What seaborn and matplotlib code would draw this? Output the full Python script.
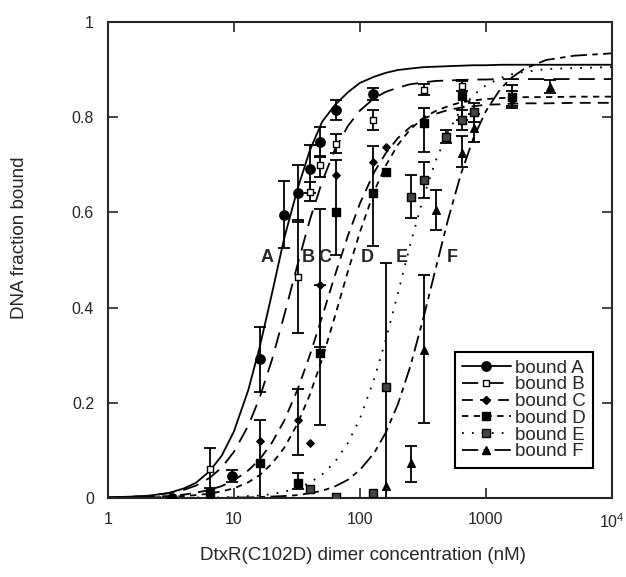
import matplotlib
matplotlib.use('Agg')
import matplotlib.pyplot as plt
import seaborn as sns
from matplotlib.lines import Line2D
from matplotlib.ticker import NullLocator

# fitted binding curves at these concentrations (nM)
curve_conc = [1, 2, 3, 4, 5, 6.4, 8, 10, 13, 16, 20, 25, 32, 40, 50, 63, 80, 100,
              130, 160, 200, 250, 320, 400, 500, 630, 800, 1000, 1300, 1600, 2000,
              3000, 5000, 10000]
fit_A = [0.001, 0.004, 0.010, 0.020, 0.032, 0.056, 0.089, 0.140, 0.227, 0.317, 0.429,
         0.545, 0.650, 0.730, 0.790, 0.825, 0.852, 0.872, 0.885, 0.893, 0.899, 0.902,
         0.905, 0.906, 0.907, 0.908, 0.909, 0.909, 0.910, 0.910, 0.910, 0.910, 0.910, 0.910]
fit_B = [0.001, 0.004, 0.010, 0.017, 0.026, 0.042, 0.064, 0.097, 0.152, 0.211, 0.290,
         0.383, 0.491, 0.584, 0.664, 0.731, 0.781, 0.814, 0.840, 0.853, 0.862, 0.869,
         0.873, 0.876, 0.877, 0.878, 0.879, 0.879, 0.880, 0.880, 0.880, 0.880, 0.880, 0.880]
fit_C = [0.001, 0.002, 0.004, 0.007, 0.011, 0.017, 0.025, 0.037, 0.058, 0.081, 0.116,
         0.162, 0.228, 0.300, 0.380, 0.466, 0.550, 0.619, 0.685, 0.724, 0.756, 0.779,
         0.797, 0.807, 0.815, 0.820, 0.823, 0.826, 0.827, 0.828, 0.829, 0.829, 0.830, 0.830]
fit_D = [0.000, 0.001, 0.002, 0.004, 0.006, 0.009, 0.014, 0.020, 0.033, 0.048, 0.072,
         0.105, 0.156, 0.217, 0.291, 0.380, 0.475, 0.559, 0.645, 0.698, 0.742, 0.774,
         0.799, 0.813, 0.823, 0.831, 0.835, 0.838, 0.840, 0.841, 0.842, 0.842, 0.843, 0.843]
fit_E = [0.000, 0.000, 0.000, 0.000, 0.001, 0.001, 0.001, 0.002, 0.004, 0.005, 0.008,
         0.013, 0.021, 0.032, 0.049, 0.075, 0.115, 0.167, 0.251, 0.332, 0.430, 0.531,
         0.633, 0.709, 0.769, 0.815, 0.847, 0.867, 0.882, 0.890, 0.895, 0.901, 0.903, 0.905]
fit_F = [0.000, 0.000, 0.000, 0.000, 0.000, 0.000, 0.000, 0.001, 0.001, 0.002, 0.003,
         0.004, 0.006, 0.010, 0.015, 0.024, 0.038, 0.059, 0.095, 0.137, 0.197, 0.275,
         0.380, 0.483, 0.585, 0.679, 0.758, 0.813, 0.859, 0.883, 0.901, 0.920, 0.929, 0.934]

# measured points with error bars (lower, upper)
conc_A = [3.2, 9.6, 16, 25, 32, 40, 48, 64, 128]
bound_A = [0.0, 0.046, 0.292, 0.595, 0.64, 0.69, 0.748, 0.815, 0.849]
lo_A = [0, 0.012, 0.07, 0.07, 0.06, 0.05, 0.03, 0.02, 0.013]
hi_A = [0, 0.012, 0.068, 0.07, 0.06, 0.052, 0.032, 0.02, 0.013]

conc_B = [6.4, 32, 40, 48, 64, 128, 320, 640]
bound_B = [0.061, 0.464, 0.643, 0.70, 0.744, 0.794, 0.857, 0.865]
lo_B = [0.04, 0.117, 0.02, 0.025, 0.02, 0.021, 0.01, 0.01]
hi_B = [0.044, 0.12, 0.02, 0.017, 0.02, 0.021, 0.013, 0.013]

conc_C = [6.4, 16, 32, 40, 48, 64, 128, 160, 1600]
bound_C = [0.012, 0.12, 0.164, 0.115, 0.447, 0.678, 0.705, 0.737, 0.835]
lo_C = [0, 0, 0.074, 0, 0.13, 0, 0, 0, 0.015]
hi_C = [0, 0, 0.064, 0, 0.16, 0, 0, 0, 0.02]

conc_D = [6.4, 16, 32, 48, 64, 128, 160, 320, 640, 1600]
bound_D = [0.01, 0.074, 0.032, 0.305, 0.60, 0.64, 0.685, 0.787, 0.845, 0.843]
lo_D = [0, 0.074, 0.014, 0.152, 0.09, 0.11, 0, 0.06, 0.05, 0.02]
hi_D = [0, 0.09, 0.02, 0.142, 0.11, 0.10, 0, 0.033, 0.03, 0.025]

conc_E = [40, 64, 128, 160, 256, 320, 480, 640, 800]
bound_E = [0.018, 0.003, 0.01, 0.233, 0.632, 0.668, 0.758, 0.794, 0.81]
lo_E = [0, 0, 0, 0.233, 0.044, 0.038, 0.013, 0.02, 0.02]
hi_E = [0, 0, 0, 0.261, 0.046, 0.038, 0.015, 0.02, 0.02]

conc_F = [6.4, 160, 256, 320, 400, 640, 800, 3200]
bound_F = [0.005, 0.025, 0.073, 0.311, 0.605, 0.725, 0.777, 0.863]
lo_F = [0, 0, 0.039, 0.154, 0.042, 0.03, 0.03, 0.013]
hi_F = [0, 0, 0.037, 0.157, 0.042, 0.035, 0.03, 0.015]

curve_letters = ['A', 'B', 'C', 'D', 'E', 'F']
letter_conc = [18.3, 38.7, 52.7, 114, 215, 537]

series = [
    ('bound A', fit_A, conc_A, bound_A, lo_A, hi_A, '-', 'o', 'k', 45),
    ('bound B', fit_B, conc_B, bound_B, lo_B, hi_B, (0, (9, 5)), 's', 'white', 22),
    ('bound C', fit_C, conc_C, bound_C, lo_C, hi_C, (0, (6, 4)), 'D', 'k', 14),
    ('bound D', fit_D, conc_D, bound_D, lo_D, hi_D, (0, (3.5, 3)), 's', 'k', 30),
    ('bound E', fit_E, conc_E, bound_E, lo_E, hi_E, (0, (1, 4.5)), 's', '#444444', 30),
    ('bound F', fit_F, conc_F, bound_F, lo_F, hi_F, (0, (9, 3, 3, 3)), '^', 'k', 30),
]

sns.set_style('ticks')
plt.rcParams['font.family'] = ['Liberation Sans', 'DejaVu Sans']
plt.rcParams['mathtext.default'] = 'regular'

fig, ax = plt.subplots(figsize=(6.26, 5.77), dpi=100)
fig.subplots_adjust(left=0.1725, right=0.9776, top=0.962, bottom=0.137)

handles = []
for name, fit, conc, bound, lo, hi, ls, mk, fc, size in series:
    sns.lineplot(x=curve_conc, y=fit, ax=ax, color='k', linestyle=ls, linewidth=1.3)
    keep = [i for i in range(len(conc)) if lo[i] + hi[i] > 0]
    ax.errorbar([conc[i] for i in keep], [bound[i] for i in keep],
                yerr=[[lo[i] for i in keep], [hi[i] for i in keep]],
                fmt='none', ecolor='k', elinewidth=1.3, capsize=4, capthick=1.3, zorder=2)
    sns.scatterplot(x=conc, y=bound, ax=ax, marker=mk, s=size, color=fc,
                    edgecolor='k', linewidth=1, zorder=3)
    handles.append(Line2D([], [], color='k', linestyle=ls, linewidth=1.3, marker=mk,
                          markersize=size ** 0.5, markerfacecolor=fc, markeredgecolor='k'))

for letter, xc in zip(curve_letters, letter_conc):
    ax.text(xc, 0.506, letter, ha='center', va='center', fontsize=13, fontweight='bold')

ax.set_xscale('log')
ax.set_xlim(1, 1e4)
ax.set_ylim(0, 1)
ax.set_xticks([1, 10, 100, 1000, 10000])
ax.set_xticklabels(['1', '10', '100', '1000', r'$10^4$'])
ax.xaxis.set_minor_locator(NullLocator())
ax.set_yticks([0, 0.2, 0.4, 0.6, 0.8, 1])
ax.set_yticklabels(['0', '0.2', '0.4', '0.6', '0.8', '1'])
ax.tick_params(direction='in', top=True, right=True, length=7, width=1.2,
               labelsize=11.5, pad=10)
for sp in ax.spines.values():
    sp.set_linewidth(1.5)

ax.set_xlabel('DtxR(C102D) dimer concentration (nM)', fontsize=13.5)
ax.set_ylabel('DNA fraction bound', fontsize=13.5)
ax.xaxis.set_label_coords(0.505, -0.103)
ax.yaxis.set_label_coords(-0.159, 0.546)

leg = ax.legend(handles, [s[0] for s in series], loc='lower right',
                bbox_to_anchor=(0.962, 0.063), borderaxespad=0, fontsize=13.5,
                handlelength=2.6, handletextpad=0.2, labelspacing=-0.02,
                fancybox=False, framealpha=1, borderpad=0.4)
leg.get_frame().set_edgecolor('k')
leg.get_frame().set_linewidth(1.5)

fig.savefig('out.png', dpi=100)
